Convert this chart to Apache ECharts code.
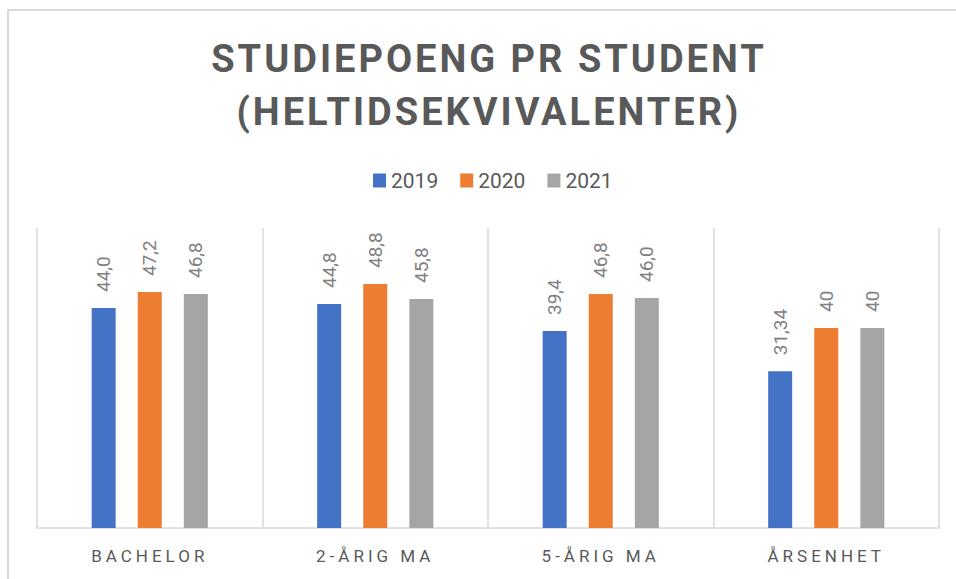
<!DOCTYPE html>
<html>
<head>
<meta charset="utf-8">
<script src="https://cdn.jsdelivr.net/npm/echarts@6/dist/echarts.min.js"></script>
<style>
  html, body { margin: 0; padding: 0; background: #ffffff; }
  #chart { width: 956px; height: 579px; }
  #chart text[style*="38px"] { letter-spacing: 3px; }
  #chart text[style*="17px"] { letter-spacing: 4px; }
</style>
</head>
<body>
<div id="chart"></div>
<script>
const titleText = 'STUDIEPOENG PR STUDENT\n(HELTIDSEKVIVALENTER)';
const categories = ['BACHELOR', '2-ÅRIG MA', '5-ÅRIG MA', 'ÅRSENHET'];
const seriesNames = ['2019', '2020', '2021'];
const values2019 = [44.0, 44.8, 39.4, 31.34];
const values2020 = [47.2, 48.8, 46.8, 40];
const values2021 = [46.8, 45.8, 46.0, 40];
const labels2019 = ['44,0', '44,8', '39,4', '31,34'];
const labels2020 = ['47,2', '48,8', '46,8', '40'];
const labels2021 = ['46,8', '45,8', '46,0', '40'];
const colors = ['#4472c4', '#ed7d31', '#a5a5a5'];

const allValues = [values2019, values2020, values2021];
const allLabels = [labels2019, labels2020, labels2021];

const chart = echarts.init(document.getElementById('chart'), null, { renderer: 'svg' });

const series = seriesNames.map((name, i) => ({
  name: name,
  type: 'bar',
  data: allValues[i],
  barWidth: 24,
  barGap: '92%',
  itemStyle: { color: colors[i] },
  label: {
    show: true,
    position: 'top',
    rotate: 90,
    align: 'left',
    verticalAlign: 'middle',
    distance: 16,
    color: '#808080',
    fontFamily: 'Roboto',
    fontSize: 19,
    formatter: (p) => allLabels[i][p.dataIndex]
  }
}));

chart.setOption({
  animation: false,
  backgroundColor: '#ffffff',
  title: {
    text: titleText,
    left: 489,
    textAlign: 'center',
    top: 32,
    padding: 0,
    textStyle: {
      fontFamily: 'Roboto',
      fontWeight: 'bold',
      fontSize: 38,
      lineHeight: 53,
      color: '#595959'
    }
  },
  legend: {
    data: seriesNames,
    top: 170,
    left: 373,
    padding: 0,
    itemWidth: 13,
    itemHeight: 14,
    itemGap: 22,
    icon: 'rect',
    textStyle: { fontFamily: 'Roboto', fontSize: 21, color: '#595959' }
  },
  graphic: [{
    type: 'rect',
    shape: { x: 8, y: 10, width: 1200, height: 1200 },
    style: { fill: 'none', stroke: '#d9d9d9', lineWidth: 2 },
    silent: true,
    z: -10
  }],
  grid: { left: 37, right: 17, top: 228, bottom: 51 },
  xAxis: {
    type: 'category',
    data: categories,
    axisTick: { show: false },
    axisLine: { lineStyle: { color: '#d9d9d9', width: 1.5 } },
    splitLine: { show: true, lineStyle: { color: '#d9d9d9', width: 1.5 } },
    axisLabel: {
      margin: 19,
      fontFamily: 'Roboto',
      fontSize: 17,
      color: '#595959'
    }
  },
  yAxis: {
    type: 'value',
    min: 0,
    max: 60,
    interval: 10,
    show: false,
    splitLine: { show: false }
  },
  series: series
});
</script>
</body>
</html>
